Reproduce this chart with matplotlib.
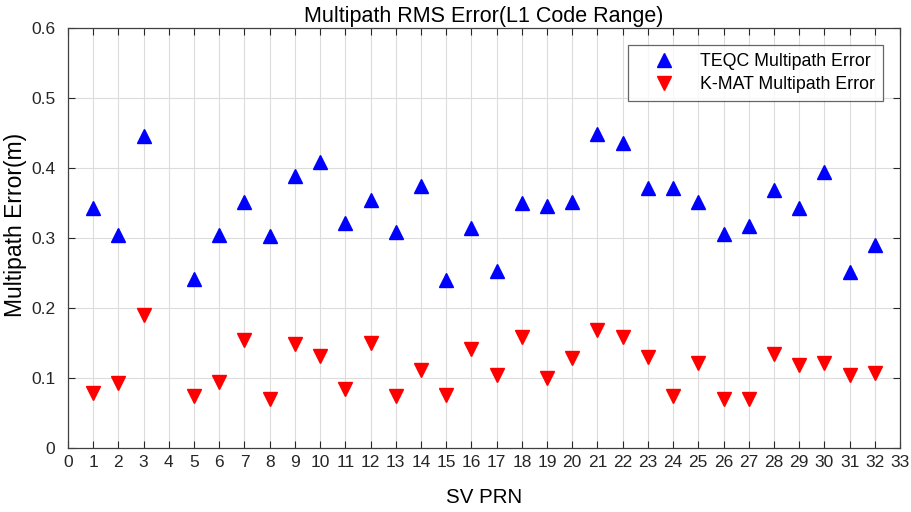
import numpy as np
import matplotlib.pyplot as plt

plt.rcParams['font.family'] = ['Liberation Sans', 'DejaVu Sans']

# SV PRN numbers (PRN 4 has no data)
prn = [1, 2, 3, 5, 6, 7, 8, 9, 10, 11, 12, 13, 14, 15, 16, 17,
       18, 19, 20, 21, 22, 23, 24, 25, 26, 27, 28, 29, 30, 31, 32]

# RMS multipath error (m)
teqc = [0.343, 0.305, 0.446, 0.241, 0.305, 0.352, 0.303, 0.388, 0.408, 0.322,
        0.355, 0.309, 0.375, 0.240, 0.314, 0.253, 0.350, 0.346, 0.351, 0.449,
        0.436, 0.372, 0.371, 0.351, 0.306, 0.317, 0.368, 0.343, 0.395, 0.251,
        0.290]
kmat = [0.079, 0.093, 0.190, 0.075, 0.095, 0.155, 0.070, 0.148, 0.131, 0.085,
        0.150, 0.075, 0.112, 0.076, 0.141, 0.105, 0.159, 0.100, 0.129, 0.169,
        0.159, 0.130, 0.075, 0.122, 0.070, 0.070, 0.134, 0.118, 0.122, 0.104,
        0.107]

fig = plt.figure(figsize=(9.12, 5.12), dpi=100)
ax = fig.add_axes([68 / 912, 1 - 448 / 512, 832 / 912, 420 / 512])

ax.plot(prn, teqc, linestyle='none', marker='^', markersize=10.5,
        color='#0000ff', label='TEQC Multipath Error')
ax.plot(prn, kmat, linestyle='none', marker='v', markersize=10.5,
        color='#ff0000', label='K-MAT Multipath Error')

ax.set_xlim(0, 33)
ax.set_ylim(0, 0.6)
ax.set_xticks(range(0, 34))
ax.set_yticks(np.arange(0, 0.61, 0.1))
ax.set_yticklabels(['0', '0.1', '0.2', '0.3', '0.4', '0.5', '0.6'])
ax.grid(True, color='#dcdcdc', linewidth=0.8)
ax.set_axisbelow(True)
ax.tick_params(direction='in', top=True, right=True, labelsize=12.5,
               colors='#262626', length=5)
ax.tick_params(axis='y', pad=9)
ax.tick_params(axis='x', pad=5)
for s in ax.spines.values():
    s.set_color('#404040')
    s.set_linewidth(0.9)

ax.set_title('Multipath RMS Error(L1 Code Range)', fontsize=15.5, pad=4)
ax.set_xlabel('SV PRN', fontsize=14.8, labelpad=13)
ax.set_ylabel('Multipath Error(m)', fontsize=16.5)
ax.yaxis.set_label_coords(-0.049, 0.532)

leg = ax.legend(loc='upper right', bbox_to_anchor=(0.9796, 0.9595),
                borderaxespad=0, fontsize=12.8, fancybox=False,
                edgecolor='#404040', borderpad=0.45, handlelength=3.2,
                handletextpad=0.4, labelspacing=0.35)
leg.get_frame().set_linewidth(0.9)

fig.savefig('out.png', dpi=100)
